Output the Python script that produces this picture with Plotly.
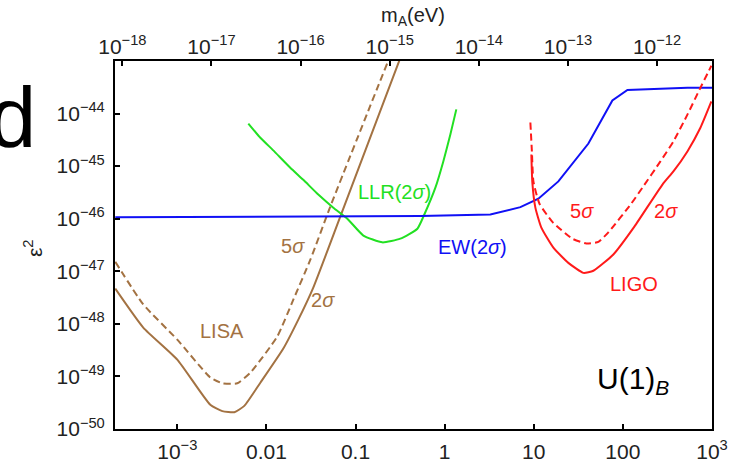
import numpy as np
import plotly.graph_objects as go

# ---- data (log10 of frequency [Hz] and log10 of epsilon^2) ----
lisa2_logf = [-3.696, -3.382, -3.0, -2.630, -2.495, -2.360, -2.248, -2.068, -1.810, -1.642, -1.474, -1.171, -0.508]
lisa2_logy = [-47.33, -48.07, -48.68, -49.54, -49.66, -49.68, -49.56, -49.12, -48.47, -47.92, -47.31, -45.96, -42.99]

lisa5_logf = [-3.696, -3.382, -3.0, -2.630, -2.495, -2.327, -2.181, -1.878, -1.698, -1.507, -1.283, -0.632]
lisa5_logy = [-46.82, -47.63, -48.30, -49.02, -49.13, -49.13, -48.93, -48.24, -47.54, -46.78, -45.77, -42.99]

llr_logf = [-2.203, -2.068, -1.923, -1.732, -1.586, -1.418, -1.249, -1.092, -0.912, -0.699, -0.497, -0.306, -0.228, -0.104, -0.015, 0.064, 0.131]
llr_logy = [-44.19, -44.46, -44.70, -45.03, -45.26, -45.54, -45.79, -46.00, -46.32, -46.45, -46.38, -46.19, -45.92, -45.41, -44.91, -44.40, -43.92]

ew_logf = [-3.696, -1.620, -0.273, 0.513, 0.850, 1.052, 1.276, 1.613, 1.882, 2.051, 2.724, 3.0]
ew_logy = [-45.97, -45.96, -45.95, -45.92, -45.78, -45.62, -45.29, -44.57, -43.75, -43.55, -43.51, -43.51]

ligo2_logf = [0.973, 0.984, 1.018, 1.085, 1.220, 1.388, 1.557, 1.669, 1.893, 2.129, 2.444, 2.567, 2.724, 2.870, 2.993]
ligo2_logy = [-44.78, -45.31, -45.79, -46.17, -46.55, -46.84, -47.03, -46.99, -46.68, -46.15, -45.35, -45.10, -44.72, -44.27, -43.77]

ligo5_logf = [0.962, 0.979, 0.996, 1.063, 1.209, 1.433, 1.590, 1.725, 1.837, 2.095, 2.219, 2.421, 2.567, 2.724, 2.870, 2.993]
ligo5_logy = [-44.17, -44.72, -45.29, -45.71, -46.06, -46.38, -46.47, -46.44, -46.26, -45.71, -45.41, -44.91, -44.53, -44.02, -43.51, -43.09]

x_tickvals = [1e-3, 1e-2, 1e-1, 1, 10, 100, 1e3]
x_ticktext = ["10<sup>\u22123</sup>", "0.01", "0.1", "1", "10", "100", "10<sup>3</sup>"]
m_tickexp = [-18, -17, -16, -15, -14, -13, -12]
y_tickexp = [-50, -49, -48, -47, -46, -45, -44]

HZ_TO_EV = 4.1357e-15  # h in eV*s

BROWN = "#A37242"
GREEN = "#22E022"
BLUE = "#1010F5"
RED = "#FF1A1A"
FONT = "Liberation Sans, Arial, sans-serif"
TICKSIZE = 21


def pw(a):
    return 10 ** np.array(a, dtype=float)


fig = go.Figure()
smooth = dict(shape="spline", smoothing=0.5)
fig.add_trace(go.Scatter(x=pw(lisa5_logf), y=pw(lisa5_logy), mode="lines",
                         line=dict(color=BROWN, width=2, dash="7px,4px", **smooth)))
fig.add_trace(go.Scatter(x=pw(lisa2_logf), y=pw(lisa2_logy), mode="lines",
                         line=dict(color=BROWN, width=2, **smooth)))
fig.add_trace(go.Scatter(x=pw(llr_logf), y=pw(llr_logy), mode="lines",
                         line=dict(color=GREEN, width=2, **smooth)))
fig.add_trace(go.Scatter(x=pw(ew_logf), y=pw(ew_logy), mode="lines",
                         line=dict(color=BLUE, width=2)))
fig.add_trace(go.Scatter(x=pw(ligo5_logf), y=pw(ligo5_logy), mode="lines",
                         line=dict(color=RED, width=2, dash="7px,4px", **smooth)))
fig.add_trace(go.Scatter(x=pw(ligo2_logf), y=pw(ligo2_logy), mode="lines",
                         line=dict(color=RED, width=2, **smooth)))
# helper (invisible) trace so the top mass axis is created
fig.add_trace(go.Scatter(x=pw(m_tickexp), y=[None] * len(m_tickexp), xaxis="x2",
                         mode="lines", hoverinfo="skip", showlegend=False))

xmin, xmax = -3.699, 3.0
shift = np.log10(HZ_TO_EV)

axis_common = dict(showgrid=False, zeroline=False, ticks="inside", ticklen=5, tickwidth=2,
                   tickcolor="black", automargin=False,
                   tickfont=dict(family=FONT, size=TICKSIZE, color="#222"))

fig.update_layout(
    width=730, height=465,
    margin=dict(l=115, r=18, t=61, b=36),
    paper_bgcolor="white", plot_bgcolor="white",
    showlegend=False,
    font=dict(family=FONT),
    xaxis=dict(type="log", range=[xmin, xmax], tickvals=x_tickvals, ticktext=x_ticktext,
               showline=True, linewidth=2, linecolor="black", mirror=True,
               ticklabelstandoff=3, **axis_common),
    xaxis2=dict(type="log", range=[xmin + shift, xmax + shift], overlaying="x", side="top",
                tickvals=[10.0 ** e for e in m_tickexp],
                ticktext=["10<sup>\u2212%d</sup>" % (-e) for e in m_tickexp],
                showline=False, ticklabelstandoff=2, **axis_common),
    yaxis=dict(type="log", range=[-50, -43],
               tickvals=[10.0 ** e for e in y_tickexp],
               ticktext=["10<sup>\u2212%d</sup>" % (-e) for e in y_tickexp],
               showline=True, linewidth=2, linecolor="black", mirror=True,
               ticklabelstandoff=4, **axis_common),
)


def px2paper(px, py):
    return (px - 115) / 597.0, (429 - py) / 368.0


labels = [
    ("5<i>\u03c3</i>", 293, 246, BROWN),
    ("2<i>\u03c3</i>", 323, 300, BROWN),
    ("LISA", 222, 331, BROWN),
    ("LLR(2<i>\u03c3</i>)", 394, 192, GREEN),
    ("EW(2<i>\u03c3</i>)", 472, 247, BLUE),
    ("5<i>\u03c3</i>", 582, 211, RED),
    ("2<i>\u03c3</i>", 666, 211, RED),
    ("LIGO", 634, 284, RED),
]
for txt, lx, ly, col in labels:
    ax_, ay_ = px2paper(lx, ly)
    fig.add_annotation(x=ax_, y=ay_, xref="paper", yref="paper", text=txt, showarrow=False,
                       xanchor="center", yanchor="middle",
                       font=dict(family=FONT, size=20, color=col))

ux, uy = px2paper(595, 380)
fig.add_annotation(x=ux, y=uy, xref="paper", yref="paper", text="U(1)<sub><i>B</i></sub>",
                   showarrow=False, xanchor="left", yanchor="middle",
                   font=dict(family=FONT, size=30, color="black"))

tx, ty = px2paper(413, 16)
fig.add_annotation(x=tx, y=ty, xref="paper", yref="paper", text="m<sub>A</sub>(eV)",
                   showarrow=False, xanchor="center", yanchor="middle",
                   font=dict(family=FONT, size=20, color="#222"))

yx, yy = px2paper(33, 248)
fig.add_annotation(x=yx, y=yy, xref="paper", yref="paper", text="\u03b5<sup>2</sup>",
                   showarrow=False, xanchor="center", yanchor="middle", textangle=-90,
                   font=dict(family=FONT, size=21, color="#222"))

dx, dy = px2paper(38, 117)
fig.add_annotation(x=dx, y=dy, xref="paper", yref="paper", text="d",
                   showarrow=False, xanchor="right", yanchor="middle",
                   font=dict(family=FONT, size=85, color="black"))

fig.write_html("out.html")
